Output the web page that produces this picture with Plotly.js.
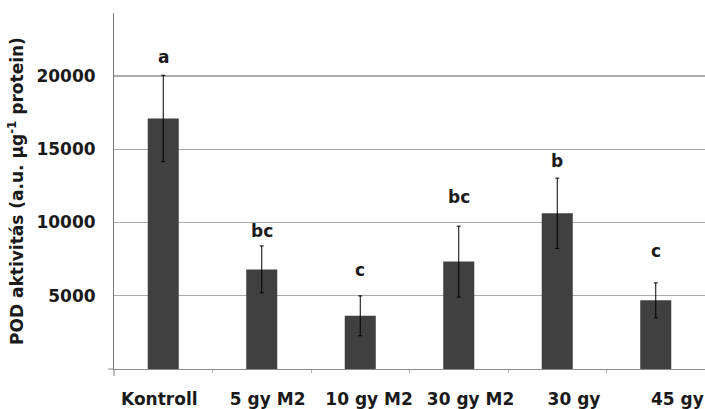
<!DOCTYPE html>
<html>
<head>
<meta charset="utf-8">
<script src="https://cdn.plot.ly/plotly-3.0.1.min.js"></script>
<style>html,body{margin:0;padding:0;background:#fff;}#chart{width:705px;height:409px;}</style>
</head>
<body>
<div id="chart"></div>
<script>
// ---- data ----
var categories = ["Kontroll", "5 gy M2", "10 gy M2", "30 gy M2", "30 gy", "45 gy"];
var podValues = [17100, 6800, 3630, 7330, 10630, 4690];
var podErrors = [2950, 1600, 1360, 2420, 2400, 1190];
var groupLetters = ["a", "bc", "c", "bc", "b", "c"];
var letterY = [21300, 9420, 6750, 11750, 14200, 8070];
var yTicks = [5000, 10000, 15000, 20000];

// ---- layout helpers (positions/styles, not data) ----
var labelOffset = [-0.04, 0.06, 0.09, 0.12, 0.17, 0.22];
var idx = categories.map(function (c, i) { return i; });
var FONT = "DejaVu Sans, sans-serif";
var TXT = "#1a1a1a";

var trace = {
  type: "bar",
  x: idx,
  y: podValues,
  width: 0.315,
  marker: { color: "#404040", line: { width: 0 } },
  error_y: { type: "data", array: podErrors, visible: true, color: "#000000", thickness: 1, width: 2 },
  hoverinfo: "skip"
};

var annotations = groupLetters.map(function (t, i) {
  return {
    x: i, y: letterY[i], xref: "x", yref: "y", text: "<b>" + t + "</b>",
    showarrow: false, font: { family: FONT, size: 17, color: TXT },
    xanchor: "center", yanchor: "middle"
  };
});

var layout = {
  width: 705, height: 409,
  margin: { l: 114, r: 0, t: 13, b: 40, pad: 0 },
  paper_bgcolor: "#ffffff", plot_bgcolor: "#ffffff",
  showlegend: false,
  font: { family: FONT, size: 17, color: TXT },
  xaxis: {
    range: [-0.5, 5.5], fixedrange: true,
    tickmode: "array",
    tickvals: idx.map(function (i) { return i + labelOffset[i]; }),
    ticktext: categories.map(function (c) { return "<b>" + c + "</b>"; }),
    ticks: "", showgrid: false, zeroline: false,
    showline: true, linecolor: "#8c8c8c", linewidth: 1,
    tickfont: { family: FONT, size: 17, color: TXT },
    ticklabelstandoff: 15,
    minor: { tickmode: "array", tickvals: [0.5, 1.5, 2.5, 3.5, 4.5], ticks: "outside", ticklen: 3, tickcolor: "#b0b0b0", tickwidth: 1, showgrid: false }
  },
  yaxis: {
    range: [0, 24300], fixedrange: true,
    tickmode: "array", tickvals: yTicks,
    ticktext: yTicks.map(function (v) { return "<b>" + v + "</b>"; }),
    ticks: "", showgrid: true, gridcolor: "#ababab", gridwidth: 1.2,
    zeroline: false, showline: true, linecolor: "#7a7a7a", linewidth: 1,
    tickfont: { family: FONT, size: 17, color: TXT },
    ticklabelstandoff: 14,
    title: { text: "<b>POD aktivitás (a.u. µg<sup>-1</sup> protein)</b>", font: { family: FONT, size: 17, color: TXT }, standoff: 8 }
  },
  shapes: [
    { type: "line", xref: "paper", yref: "paper", x0: 0, x1: 0, y0: 0, y1: -0.02, line: { color: "#7a7a7a", width: 1 } },
    { type: "line", xref: "paper", yref: "paper", x0: -0.01, x1: 0, y0: 0, y1: 0, line: { color: "#8c8c8c", width: 1 } }
  ],
  annotations: annotations
};

Plotly.newPlot("chart", [trace], layout, { staticPlot: true, displayModeBar: false });
</script>
</body>
</html>
